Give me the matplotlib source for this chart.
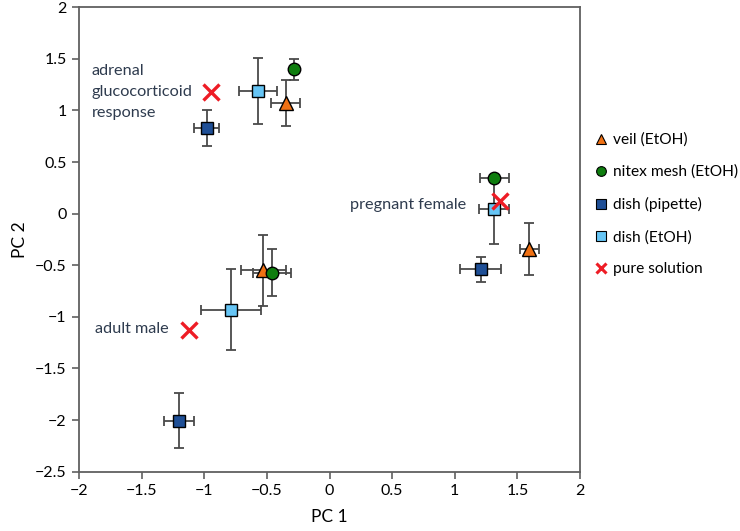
import numpy as np
import matplotlib
matplotlib.use("Agg")
import matplotlib.pyplot as plt
from matplotlib.lines import Line2D

plt.rcParams["font.family"] = ["Lato", "DejaVu Sans"]

# group order: adrenal glucocorticoid response, adult male, pregnant female
veil_x = [-0.35, -0.53, 1.595]
veil_y = [1.075, -0.55, -0.345]
veil_xe = [0.115, 0.18, 0.075]
veil_ye = [0.225, 0.345, 0.25]

nitex_x = [-0.285, -0.46, 1.315]
nitex_y = [1.40, -0.57, 0.343]
nitex_xe = [0.0, 0.15, 0.115]
nitex_ye = [0.10, 0.23, 0.0]

pip_x = [-0.98, -1.205, 1.208]
pip_y = [0.83, -2.006, -0.54]
pip_xe = [0.10, 0.12, 0.163]
pip_ye = [0.17, 0.265, 0.12]

etoh_x = [-0.57, -0.79, 1.31]
etoh_y = [1.19, -0.93, 0.043]
etoh_xe = [0.15, 0.24, 0.12]
etoh_ye = [0.32, 0.39, 0.333]

pure_x = [-0.944, -1.12, 1.36]
pure_y = [1.18, -1.13, 0.12]

group_labels = ["adrenal\nglucocorticoid\nresponse", "adult male", "pregnant female"]

C_VEIL = "#f07114"
C_NITEX = "#0e7d0e"
C_PIP = "#1f4f96"
C_ETOH = "#66c5f5"
C_PURE = "#ee1c25"
C_ERR = "#4a4a4a"
C_TXT = "#2e3b4e"

fig = plt.figure(figsize=(7.4, 5.31), dpi=100)
ax = fig.add_axes([0.1068, 0.1117, 0.677, 0.8746])

series = [
    (pip_x, pip_y, pip_xe, pip_ye, "s", C_PIP, 8.6, "dish (pipette)"),
    (etoh_x, etoh_y, etoh_xe, etoh_ye, "s", C_ETOH, 8.6, "dish (EtOH)"),
    (veil_x, veil_y, veil_xe, veil_ye, "^", C_VEIL, 10, "veil (EtOH)"),
    (nitex_x, nitex_y, nitex_xe, nitex_ye, "o", C_NITEX, 9, "nitex mesh (EtOH)"),
]
for x, y, xe, ye, m, c, ms, lab in series:
    ax.errorbar(x, y, xerr=xe, yerr=ye, fmt="none", ecolor=C_ERR, elinewidth=1.3,
                capsize=3.5, capthick=1.3, zorder=2)
for x, y, xe, ye, m, c, ms, lab in series:
    ax.plot(x, y, ls="none", marker=m, ms=ms, mfc=c, mec="black", mew=1.0, zorder=3)
ax.plot(pure_x, pure_y, ls="none", marker="x", ms=11, mec=C_PURE, mew=2.4, zorder=4)

# group annotations
ax.text(-1.9, 1.18, group_labels[0], ha="left", va="center", fontsize=11.7,
        color=C_TXT, linespacing=1.6)
ax.text(-1.285, -1.12, group_labels[1], ha="right", va="center", fontsize=11.7, color=C_TXT)
ax.text(1.095, 0.085, group_labels[2], ha="right", va="center", fontsize=11.7, color=C_TXT)

ax.set_xlim(-2, 2)
ax.set_ylim(-2.5, 2)
ax.set_xticks(np.arange(-2, 2.01, 0.5))
ax.set_yticks(np.arange(-2.5, 2.01, 0.5))
ax.set_xticklabels(["\u22122", "\u22121.5", "\u22121", "\u22120.5", "0", "0.5", "1", "1.5", "2"])
ax.set_yticklabels(["\u22122.5", "\u22122", "\u22121.5", "\u22121", "\u22120.5", "0", "0.5", "1", "1.5", "2"])
ax.tick_params(direction="out", length=5, width=1.2, color="#606060", labelsize=11.5, pad=4)
for sp in ax.spines.values():
    sp.set_color("#606060")
    sp.set_linewidth(1.3)
ax.set_xlabel("PC 1", fontsize=12.5, labelpad=8)
ax.set_ylabel("PC 2", fontsize=12.5, labelpad=5)

handles = [
    Line2D([], [], ls="none", marker="^", ms=7.5, mfc=C_VEIL, mec="black", mew=0.8),
    Line2D([], [], ls="none", marker="o", ms=7, mfc=C_NITEX, mec="black", mew=0.8),
    Line2D([], [], ls="none", marker="s", ms=6.5, mfc=C_PIP, mec="black", mew=0.8),
    Line2D([], [], ls="none", marker="s", ms=6.5, mfc=C_ETOH, mec="black", mew=0.8),
    Line2D([], [], ls="none", marker="x", ms=7, mec=C_PURE, mew=2.2),
]
labels = ["veil (EtOH)", "nitex mesh (EtOH)", "dish (pipette)", "dish (EtOH)", "pure solution"]
fig.legend(handles, labels, loc="center left", bbox_to_anchor=(0.795, 0.615), frameon=False,
           fontsize=11.2, handlelength=0.6, handletextpad=0.5, labelspacing=1.15, borderpad=0)

fig.savefig("out.png", dpi=100)
